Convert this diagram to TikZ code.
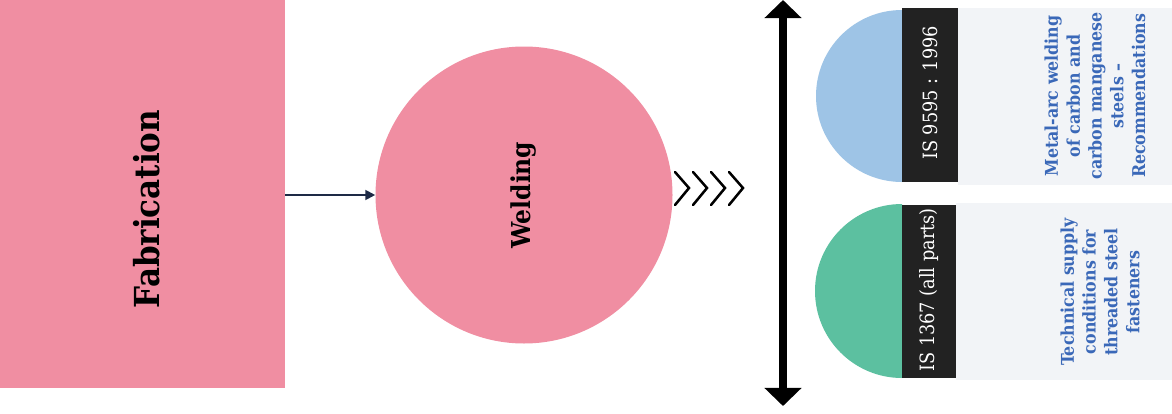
\documentclass[tikz,border=0pt]{standalone}
\usepackage{fontspec}
\setmainfont{DejaVu Serif Condensed}
\usepackage{tikz}
\usepackage{xcolor}
\usetikzlibrary{arrows.meta}

\definecolor{fabpink}{RGB}{240,142,162}
\definecolor{navyline}{RGB}{30,42,70}
\definecolor{stdblue}{RGB}{158,196,230}
\definecolor{stdgreen}{RGB}{92,192,160}
\definecolor{stripgray}{RGB}{34,34,34}
\definecolor{panelgray}{RGB}{242,244,247}
\definecolor{textblue}{RGB}{58,104,184}

\tikzset{
  stdlabel/.style={rotate=90,text=white,font=\fontsize{14}{16}\selectfont},
  stdtext/.style={rotate=90,text=textblue,align=center,font=\bfseries\fontsize{12.5}{15.5}\selectfont},
  chevron/.style={line width=1.8pt,line cap=round,line join=miter}
}

\begin{document}
\begin{tikzpicture}[x=0.025cm,y=-0.025cm,every node/.style={inner sep=0pt}]
\useasboundingbox[fill=white] (0,0) rectangle (1172,414);
% left block and circle
\fill[fabpink] (0,0) rectangle (285,388);
\node[rotate=90,font=\bfseries\fontsize{24.5}{28}\selectfont] (fab) at (147,209) {Fabrication};
\coordinate (fabR) at (285,195);
\node[circle,fill=fabpink,minimum size=297*0.025cm] (weld) at (524,195) {};
\node[rotate=90,font=\bfseries\fontsize{18.5}{22}\selectfont] (weldtxt) at (weld.center) {Welding};
\draw[navyline,line width=1.4pt,-{Triangle[width=7pt,length=7pt]}] (fabR) -- (weld.west);
% chevrons
\foreach \cx in {675,693,711,729}
  \draw[chevron] (\cx,172) -- (\cx+14,188) -- (\cx,205);
% vertical double arrow
\coordinate (arrtop) at (783,0);
\coordinate (arrbot) at (783,406);
\draw[line width=5pt,{Triangle[width=0.9cm,length=0.45cm]}-{Triangle[width=0.9cm,length=0.45cm]}] (arrtop) -- (arrbot);
% first standard
\fill[stdblue] (902,182) arc[start angle=90,end angle=270,radius=86] -- cycle;
\fill[stripgray] (902,8) rectangle (958,182);
\node[stdlabel] (isone) at (930,93) {IS 9595 : 1996};
\fill[panelgray] (958,8) rectangle (1172,185);
\node[stdtext] (txtone) at (1095,96) {Metal-arc welding\\of carbon and\\carbon manganese\\steels --\\Recommendations};
% second standard
\fill[stdgreen] (902,378) arc[start angle=90,end angle=270,radius=87] -- cycle;
\fill[stripgray] (902,205) rectangle (956,378);
\node[stdlabel] (istwo) at (929,290) {IS 1367 (all parts)};
\fill[panelgray] (956,203) rectangle (1172,380);
\node[stdtext] (txttwo) at (1100,292) {Technical supply\\conditions for\\threaded steel\\fasteners};
\end{tikzpicture}
\end{document}
